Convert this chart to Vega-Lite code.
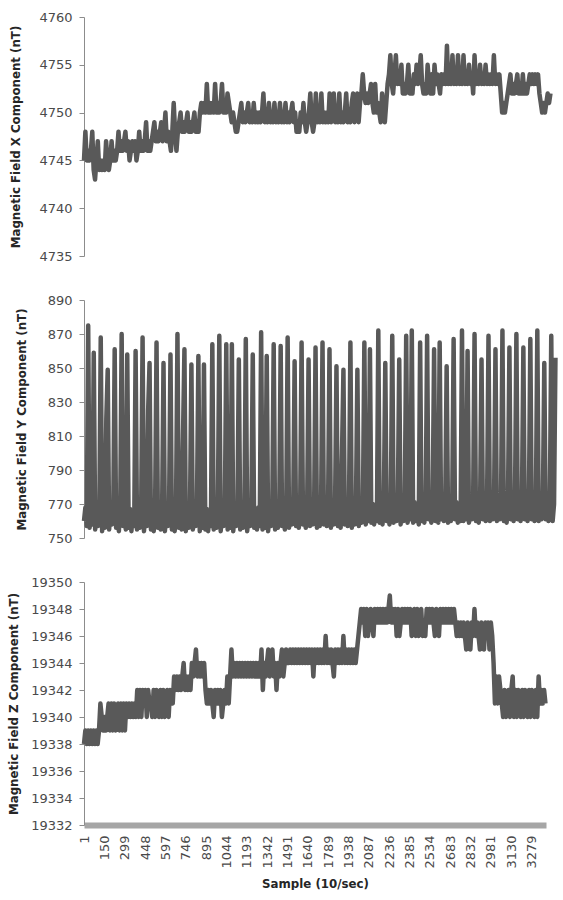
{
"$schema": "https://vega.github.io/schema/vega-lite/v6.json",
"background": "white",
"padding": {"left": 8, "top": 11, "right": 0, "bottom": 0},
"spacing": 44,
"bounds": "flush",
"config": {
  "view": {"stroke": null},
  "axis": {"labelFont": "DejaVu Sans", "labelFontSize": 13, "labelColor": "#4a4a4a", "titleFont": "DejaVu Sans", "titleFontWeight": "bold", "titleFontSize": 11.8, "titleColor": "#262626", "domainColor": "#8c8c8c", "tickColor": "#8c8c8c", "tickSize": 5, "grid": false, "labelPadding": 7}
},
"data": {"values": [
{"s":1,"x":4745,"y":760,"z":19338},{"s":11,"x":4748,"y":768,"z":19339},{"s":21,"x":4745,"y":757,"z":19338},{"s":31,"x":4746,"y":875,"z":19339},{"s":41,"x":4745,"y":756,"z":19338},{"s":51,"x":4746,"y":766,"z":19339},{"s":61,"x":4748,"y":758,"z":19338},{"s":71,"x":4744,"y":859,"z":19339},{"s":81,"x":4743,"y":755,"z":19338},{"s":91,"x":4745,"y":767,"z":19339},
{"s":101,"x":4747,"y":757,"z":19338},{"s":111,"x":4744,"y":765,"z":19339},{"s":121,"x":4745,"y":868,"z":19341},{"s":131,"x":4744,"y":754,"z":19340},{"s":141,"x":4745,"y":766,"z":19339},{"s":151,"x":4744,"y":756,"z":19340},{"s":161,"x":4747,"y":820,"z":19339},{"s":171,"x":4745,"y":849,"z":19340},{"s":181,"x":4744,"y":755,"z":19341},{"s":191,"x":4745,"y":765,"z":19339},
{"s":201,"x":4747,"y":758,"z":19341},{"s":211,"x":4745,"y":767,"z":19339},{"s":221,"x":4746,"y":861,"z":19341},{"s":231,"x":4745,"y":756,"z":19339},{"s":241,"x":4746,"y":766,"z":19340},{"s":251,"x":4748,"y":754,"z":19341},{"s":261,"x":4746,"y":768,"z":19339},{"s":271,"x":4747,"y":870,"z":19341},{"s":281,"x":4746,"y":757,"z":19339},{"s":291,"x":4747,"y":765,"z":19341},
{"s":301,"x":4748,"y":755,"z":19339},{"s":311,"x":4746,"y":858,"z":19341},{"s":321,"x":4747,"y":756,"z":19340},{"s":331,"x":4745,"y":767,"z":19341},{"s":341,"x":4746,"y":754,"z":19340},{"s":351,"x":4747,"y":766,"z":19341},{"s":361,"x":4746,"y":757,"z":19340},{"s":371,"x":4747,"y":860,"z":19341},{"s":381,"x":4745,"y":755,"z":19340},{"s":391,"x":4746,"y":766,"z":19342},
{"s":401,"x":4748,"y":756,"z":19340},{"s":411,"x":4746,"y":767,"z":19342},{"s":421,"x":4747,"y":868,"z":19340},{"s":431,"x":4746,"y":754,"z":19342},{"s":441,"x":4747,"y":765,"z":19341},{"s":451,"x":4749,"y":757,"z":19342},{"s":461,"x":4746,"y":825,"z":19340},{"s":471,"x":4747,"y":853,"z":19342},{"s":481,"x":4746,"y":755,"z":19341},{"s":491,"x":4747,"y":766,"z":19341},
{"s":501,"x":4748,"y":754,"z":19340},{"s":511,"x":4749,"y":768,"z":19342},{"s":521,"x":4747,"y":865,"z":19340},{"s":531,"x":4748,"y":756,"z":19342},{"s":541,"x":4747,"y":767,"z":19341},{"s":551,"x":4748,"y":755,"z":19340},{"s":561,"x":4749,"y":765,"z":19342},{"s":571,"x":4747,"y":853,"z":19340},{"s":581,"x":4748,"y":754,"z":19342},{"s":591,"x":4750,"y":766,"z":19340},
{"s":601,"x":4747,"y":757,"z":19341},{"s":611,"x":4748,"y":767,"z":19342},{"s":621,"x":4747,"y":858,"z":19340},{"s":631,"x":4746,"y":755,"z":19342},{"s":641,"x":4748,"y":766,"z":19341},{"s":651,"x":4751,"y":754,"z":19341},{"s":661,"x":4748,"y":768,"z":19343},{"s":671,"x":4746,"y":870,"z":19342},{"s":681,"x":4748,"y":756,"z":19343},{"s":691,"x":4749,"y":765,"z":19342},
{"s":701,"x":4750,"y":755,"z":19343},{"s":711,"x":4748,"y":810,"z":19342},{"s":721,"x":4749,"y":861,"z":19343},{"s":731,"x":4748,"y":754,"z":19344},{"s":741,"x":4749,"y":767,"z":19342},{"s":751,"x":4750,"y":756,"z":19343},{"s":761,"x":4748,"y":766,"z":19342},{"s":771,"x":4749,"y":852,"z":19343},{"s":781,"x":4748,"y":755,"z":19342},{"s":791,"x":4749,"y":765,"z":19344},
{"s":801,"x":4750,"y":757,"z":19343},{"s":811,"x":4748,"y":768,"z":19344},{"s":821,"x":4749,"y":857,"z":19345},{"s":831,"x":4748,"y":754,"z":19343},{"s":841,"x":4750,"y":766,"z":19344},{"s":851,"x":4751,"y":756,"z":19343},{"s":861,"x":4750,"y":852,"z":19344},{"s":871,"x":4751,"y":755,"z":19343},{"s":881,"x":4750,"y":767,"z":19344},{"s":891,"x":4753,"y":754,"z":19342},
{"s":901,"x":4750,"y":766,"z":19341},{"s":911,"x":4751,"y":757,"z":19342},{"s":921,"x":4750,"y":864,"z":19341},{"s":931,"x":4751,"y":755,"z":19342},{"s":941,"x":4750,"y":765,"z":19341},{"s":951,"x":4753,"y":756,"z":19340},{"s":961,"x":4750,"y":768,"z":19342},{"s":971,"x":4751,"y":869,"z":19341},{"s":981,"x":4750,"y":754,"z":19342},{"s":991,"x":4751,"y":766,"z":19341},
{"s":1001,"x":4753,"y":757,"z":19342},{"s":1011,"x":4750,"y":767,"z":19340},{"s":1021,"x":4751,"y":864,"z":19341},{"s":1031,"x":4750,"y":755,"z":19342},{"s":1041,"x":4752,"y":766,"z":19341},{"s":1051,"x":4751,"y":756,"z":19343},{"s":1061,"x":4750,"y":864,"z":19341},{"s":1071,"x":4749,"y":754,"z":19343},{"s":1081,"x":4750,"y":767,"z":19345},{"s":1091,"x":4749,"y":757,"z":19343},
{"s":1101,"x":4748,"y":765,"z":19344},{"s":1111,"x":4748,"y":855,"z":19343},{"s":1121,"x":4749,"y":755,"z":19344},{"s":1131,"x":4750,"y":768,"z":19343},{"s":1141,"x":4751,"y":756,"z":19344},{"s":1151,"x":4749,"y":766,"z":19343},{"s":1161,"x":4750,"y":867,"z":19344},{"s":1171,"x":4749,"y":754,"z":19343},{"s":1181,"x":4750,"y":765,"z":19344},{"s":1191,"x":4751,"y":757,"z":19343},
{"s":1201,"x":4749,"y":767,"z":19344},{"s":1211,"x":4750,"y":858,"z":19343},{"s":1221,"x":4749,"y":756,"z":19344},{"s":1231,"x":4751,"y":766,"z":19343},{"s":1241,"x":4749,"y":755,"z":19344},{"s":1251,"x":4750,"y":768,"z":19343},{"s":1261,"x":4749,"y":757,"z":19344},{"s":1271,"x":4750,"y":871,"z":19343},{"s":1281,"x":4749,"y":755,"z":19344},{"s":1291,"x":4750,"y":767,"z":19343},
{"s":1301,"x":4752,"y":756,"z":19345},{"s":1311,"x":4749,"y":857,"z":19342},{"s":1321,"x":4750,"y":754,"z":19344},{"s":1331,"x":4749,"y":766,"z":19343},{"s":1341,"x":4751,"y":757,"z":19344},{"s":1351,"x":4749,"y":768,"z":19345},{"s":1361,"x":4750,"y":864,"z":19343},{"s":1371,"x":4749,"y":755,"z":19344},{"s":1381,"x":4751,"y":767,"z":19345},{"s":1391,"x":4749,"y":756,"z":19343},
{"s":1401,"x":4750,"y":766,"z":19344},{"s":1411,"x":4749,"y":863,"z":19342},{"s":1421,"x":4751,"y":757,"z":19344},{"s":1431,"x":4749,"y":768,"z":19343},{"s":1441,"x":4750,"y":755,"z":19344},{"s":1451,"x":4749,"y":767,"z":19345},{"s":1461,"x":4751,"y":868,"z":19343},{"s":1471,"x":4749,"y":756,"z":19344},{"s":1481,"x":4750,"y":766,"z":19345},{"s":1491,"x":4749,"y":758,"z":19344},
{"s":1501,"x":4750,"y":768,"z":19344},{"s":1511,"x":4751,"y":854,"z":19345},{"s":1521,"x":4749,"y":757,"z":19344},{"s":1531,"x":4750,"y":767,"z":19345},{"s":1541,"x":4748,"y":756,"z":19344},{"s":1551,"x":4749,"y":769,"z":19345},{"s":1561,"x":4748,"y":865,"z":19344},{"s":1571,"x":4750,"y":758,"z":19345},{"s":1581,"x":4749,"y":767,"z":19344},{"s":1591,"x":4751,"y":756,"z":19345},
{"s":1601,"x":4749,"y":768,"z":19344},{"s":1611,"x":4748,"y":855,"z":19345},{"s":1621,"x":4749,"y":757,"z":19344},{"s":1631,"x":4750,"y":769,"z":19345},{"s":1641,"x":4752,"y":758,"z":19344},{"s":1651,"x":4749,"y":767,"z":19345},{"s":1661,"x":4748,"y":862,"z":19344},{"s":1671,"x":4749,"y":756,"z":19345},{"s":1681,"x":4752,"y":768,"z":19343},{"s":1691,"x":4749,"y":757,"z":19345},
{"s":1701,"x":4750,"y":769,"z":19344},{"s":1711,"x":4749,"y":865,"z":19345},{"s":1721,"x":4752,"y":758,"z":19344},{"s":1731,"x":4749,"y":767,"z":19345},{"s":1741,"x":4750,"y":757,"z":19344},{"s":1751,"x":4749,"y":768,"z":19345},{"s":1761,"x":4750,"y":861,"z":19344},{"s":1771,"x":4749,"y":756,"z":19346},{"s":1781,"x":4752,"y":769,"z":19344},{"s":1791,"x":4749,"y":758,"z":19345},
{"s":1801,"x":4750,"y":767,"z":19344},{"s":1811,"x":4752,"y":851,"z":19345},{"s":1821,"x":4749,"y":757,"z":19344},{"s":1831,"x":4750,"y":768,"z":19343},{"s":1841,"x":4749,"y":756,"z":19345},{"s":1851,"x":4752,"y":800,"z":19344},{"s":1861,"x":4749,"y":849,"z":19345},{"s":1871,"x":4750,"y":758,"z":19344},{"s":1881,"x":4749,"y":769,"z":19345},{"s":1891,"x":4750,"y":757,"z":19344},
{"s":1901,"x":4752,"y":768,"z":19346},{"s":1911,"x":4749,"y":865,"z":19344},{"s":1921,"x":4750,"y":756,"z":19345},{"s":1931,"x":4749,"y":767,"z":19344},{"s":1941,"x":4751,"y":758,"z":19345},{"s":1951,"x":4752,"y":769,"z":19344},{"s":1961,"x":4749,"y":849,"z":19345},{"s":1971,"x":4751,"y":757,"z":19344},{"s":1981,"x":4752,"y":768,"z":19345},{"s":1991,"x":4749,"y":759,"z":19344},
{"s":2001,"x":4751,"y":770,"z":19345},{"s":2011,"x":4752,"y":865,"z":19346},{"s":2021,"x":4754,"y":758,"z":19347},{"s":2031,"x":4752,"y":769,"z":19348},{"s":2041,"x":4751,"y":760,"z":19347},{"s":2051,"x":4752,"y":861,"z":19348},{"s":2061,"x":4751,"y":759,"z":19346},{"s":2071,"x":4752,"y":770,"z":19348},{"s":2081,"x":4753,"y":758,"z":19346},{"s":2091,"x":4751,"y":769,"z":19347},
{"s":2101,"x":4750,"y":760,"z":19348},{"s":2111,"x":4753,"y":872,"z":19347},{"s":2121,"x":4750,"y":759,"z":19346},{"s":2131,"x":4751,"y":770,"z":19348},{"s":2141,"x":4750,"y":758,"z":19347},{"s":2151,"x":4749,"y":771,"z":19348},{"s":2161,"x":4752,"y":853,"z":19347},{"s":2171,"x":4750,"y":760,"z":19348},{"s":2181,"x":4749,"y":769,"z":19347},{"s":2191,"x":4751,"y":758,"z":19348},
{"s":2201,"x":4753,"y":770,"z":19347},{"s":2211,"x":4754,"y":869,"z":19348},{"s":2221,"x":4756,"y":759,"z":19347},{"s":2231,"x":4753,"y":771,"z":19348},{"s":2241,"x":4752,"y":760,"z":19349},{"s":2251,"x":4754,"y":769,"z":19347},{"s":2261,"x":4756,"y":855,"z":19348},{"s":2271,"x":4753,"y":758,"z":19347},{"s":2281,"x":4754,"y":770,"z":19348},{"s":2291,"x":4753,"y":760,"z":19346},
{"s":2301,"x":4755,"y":771,"z":19348},{"s":2311,"x":4752,"y":869,"z":19346},{"s":2321,"x":4753,"y":759,"z":19347},{"s":2331,"x":4752,"y":770,"z":19348},{"s":2341,"x":4753,"y":761,"z":19347},{"s":2351,"x":4755,"y":872,"z":19348},{"s":2361,"x":4752,"y":759,"z":19347},{"s":2371,"x":4753,"y":771,"z":19348},{"s":2381,"x":4752,"y":760,"z":19347},{"s":2391,"x":4754,"y":770,"z":19348},
{"s":2401,"x":4753,"y":758,"z":19346},{"s":2411,"x":4755,"y":865,"z":19347},{"s":2421,"x":4753,"y":760,"z":19348},{"s":2431,"x":4754,"y":771,"z":19346},{"s":2441,"x":4756,"y":759,"z":19348},{"s":2451,"x":4753,"y":770,"z":19346},{"s":2461,"x":4752,"y":869,"z":19347},{"s":2471,"x":4753,"y":761,"z":19348},{"s":2481,"x":4752,"y":770,"z":19346},{"s":2491,"x":4755,"y":759,"z":19347},
{"s":2501,"x":4753,"y":771,"z":19346},{"s":2511,"x":4752,"y":861,"z":19348},{"s":2521,"x":4754,"y":760,"z":19347},{"s":2531,"x":4752,"y":770,"z":19348},{"s":2541,"x":4755,"y":759,"z":19347},{"s":2551,"x":4753,"y":865,"z":19348},{"s":2561,"x":4754,"y":761,"z":19347},{"s":2571,"x":4753,"y":771,"z":19346},{"s":2581,"x":4752,"y":760,"z":19348},{"s":2591,"x":4754,"y":770,"z":19347},
{"s":2601,"x":4753,"y":851,"z":19346},{"s":2611,"x":4754,"y":759,"z":19348},{"s":2621,"x":4753,"y":771,"z":19347},{"s":2631,"x":4757,"y":760,"z":19348},{"s":2641,"x":4753,"y":770,"z":19347},{"s":2651,"x":4754,"y":867,"z":19348},{"s":2661,"x":4753,"y":761,"z":19347},{"s":2671,"x":4756,"y":771,"z":19348},{"s":2681,"x":4753,"y":759,"z":19347},{"s":2691,"x":4754,"y":770,"z":19348},
{"s":2701,"x":4753,"y":760,"z":19347},{"s":2711,"x":4756,"y":872,"z":19348},{"s":2721,"x":4753,"y":760,"z":19347},{"s":2731,"x":4754,"y":771,"z":19346},{"s":2741,"x":4753,"y":761,"z":19347},{"s":2751,"x":4756,"y":860,"z":19346},{"s":2761,"x":4753,"y":759,"z":19347},{"s":2771,"x":4754,"y":770,"z":19346},{"s":2781,"x":4753,"y":761,"z":19347},{"s":2791,"x":4755,"y":771,"z":19346},
{"s":2801,"x":4753,"y":870,"z":19345},{"s":2811,"x":4754,"y":760,"z":19347},{"s":2821,"x":4752,"y":771,"z":19346},{"s":2831,"x":4756,"y":759,"z":19345},{"s":2841,"x":4753,"y":770,"z":19347},{"s":2851,"x":4754,"y":855,"z":19346},{"s":2861,"x":4753,"y":761,"z":19348},{"s":2871,"x":4755,"y":772,"z":19346},{"s":2881,"x":4753,"y":760,"z":19347},{"s":2891,"x":4754,"y":771,"z":19346},
{"s":2901,"x":4753,"y":869,"z":19345},{"s":2911,"x":4755,"y":760,"z":19347},{"s":2921,"x":4753,"y":770,"z":19346},{"s":2931,"x":4754,"y":761,"z":19345},{"s":2941,"x":4753,"y":771,"z":19347},{"s":2951,"x":4754,"y":861,"z":19346},{"s":2961,"x":4753,"y":760,"z":19347},{"s":2971,"x":4756,"y":772,"z":19345},{"s":2981,"x":4753,"y":761,"z":19347},{"s":2991,"x":4754,"y":770,"z":19346},
{"s":3001,"x":4753,"y":872,"z":19344},{"s":3011,"x":4754,"y":760,"z":19341},{"s":3021,"x":4752,"y":771,"z":19343},{"s":3031,"x":4750,"y":759,"z":19341},{"s":3041,"x":4751,"y":772,"z":19343},{"s":3051,"x":4750,"y":862,"z":19342},{"s":3061,"x":4751,"y":761,"z":19341},{"s":3071,"x":4752,"y":770,"z":19340},{"s":3081,"x":4753,"y":760,"z":19342},{"s":3091,"x":4754,"y":771,"z":19340},
{"s":3101,"x":4752,"y":870,"z":19341},{"s":3111,"x":4753,"y":761,"z":19342},{"s":3121,"x":4752,"y":772,"z":19340},{"s":3131,"x":4753,"y":760,"z":19342},{"s":3141,"x":4754,"y":771,"z":19343},{"s":3151,"x":4752,"y":862,"z":19340},{"s":3161,"x":4753,"y":761,"z":19342},{"s":3171,"x":4752,"y":770,"z":19340},{"s":3181,"x":4754,"y":760,"z":19342},{"s":3191,"x":4752,"y":772,"z":19341},
{"s":3201,"x":4753,"y":867,"z":19340},{"s":3211,"x":4752,"y":761,"z":19342},{"s":3221,"x":4753,"y":771,"z":19340},{"s":3231,"x":4754,"y":760,"z":19342},{"s":3241,"x":4753,"y":770,"z":19341},{"s":3251,"x":4754,"y":872,"z":19340},{"s":3261,"x":4753,"y":760,"z":19342},{"s":3271,"x":4754,"y":771,"z":19340},{"s":3281,"x":4753,"y":761,"z":19342},{"s":3291,"x":4754,"y":770,"z":19341},
{"s":3301,"x":4752,"y":853,"z":19340},{"s":3311,"x":4751,"y":761,"z":19342},{"s":3321,"x":4750,"y":772,"z":19340},{"s":3331,"x":4751,"y":760,"z":19343},{"s":3341,"x":4750,"y":771,"z":19341},{"s":3351,"x":4751,"y":869,"z":19342},{"s":3361,"x":4752,"y":760,"z":19341},{"s":3371,"x":4751,"y":770,"z":19342},{"s":3381,"x":4752,"y":856,"z":19341}
]},
"vconcat": [
  {
    "width": 467, "height": 239,
    "mark": {"type": "line", "color": "#595959", "strokeWidth": 4.5, "strokeJoin": "round"},
    "encoding": {
      "x": {"field": "s", "type": "quantitative", "scale": {"domain": [1, 3385]}, "axis": null},
      "y": {"field": "x", "type": "quantitative", "scale": {"domain": [4735, 4760]},
            "axis": {"values": [4735, 4740, 4745, 4750, 4755, 4760], "format": "d", "title": "Magnetic Field X Component (nT)", "titlePadding": 17}}
    }
  },
  {
    "width": 472, "height": 238,
    "mark": {"type": "line", "color": "#595959", "strokeWidth": 4.5, "strokeJoin": "round"},
    "encoding": {
      "x": {"field": "s", "type": "quantitative", "scale": {"domain": [1, 3385]}, "axis": null},
      "y": {"field": "y", "type": "quantitative", "scale": {"domain": [750, 890]},
            "axis": {"values": [750, 770, 790, 810, 830, 850, 870, 890], "format": "d", "title": "Magnetic Field Y Component (nT)", "titlePadding": 20}}
    }
  },
  {
    "width": 462, "height": 243,
    "mark": {"type": "line", "color": "#595959", "strokeWidth": 4.5, "strokeJoin": "round"},
    "encoding": {
      "x": {"field": "s", "type": "quantitative", "scale": {"domain": [1, 3385]},
            "axis": {"values": [1, 150, 299, 448, 597, 746, 895, 1044, 1193, 1342, 1491, 1640, 1789, 1938, 2087, 2236, 2385, 2534, 2683, 2832, 2981, 3130, 3279], "format": "d", "labelAngle": -90, "labelOverlap": false, "labelFlush": false, "ticks": false, "tickSize": 0, "domainWidth": 6, "domainColor": "#a6a6a6", "labelPadding": 10, "title": "Sample (10/sec)", "titlePadding": 10}},
      "y": {"field": "z", "type": "quantitative", "scale": {"domain": [19332, 19350]},
            "axis": {"values": [19332, 19334, 19336, 19338, 19340, 19342, 19344, 19346, 19348, 19350], "format": "d", "title": "Magnetic Field Z Component (nT)", "titlePadding": 11}}
    }
  }
]
}
